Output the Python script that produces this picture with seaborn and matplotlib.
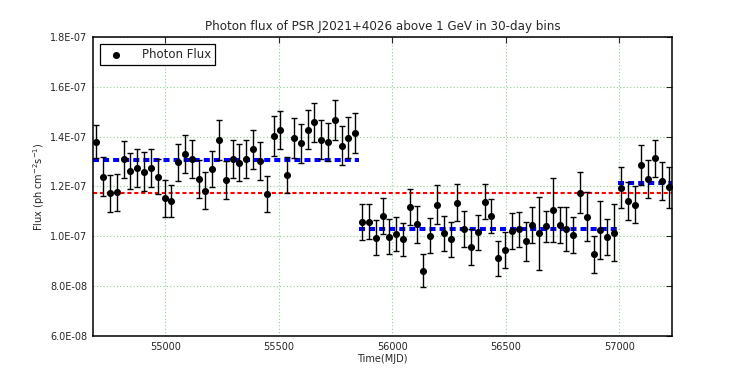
import matplotlib
matplotlib.use("Agg")
import matplotlib.pyplot as plt
import matplotlib.ticker as mticker
import seaborn as sns
import numpy as np
import pandas as pd

# ---- data (MJD bin centres, flux and error in units of 1e-8 ph cm^-2 s^-1) ----
mjd = [54697, 54727, 54757, 54787, 54817, 54847, 54877, 54907, 54937, 54967,
       54997, 55027, 55057, 55087, 55117, 55147, 55177, 55207, 55237, 55267,
       55297, 55327, 55357, 55387, 55417, 55447, 55477, 55507, 55537, 55567,
       55597, 55627, 55657, 55687, 55717, 55747, 55777, 55807, 55837, 55867,
       55897, 55927, 55957, 55987, 56017, 56047, 56077, 56107, 56137, 56167,
       56197, 56227, 56257, 56287, 56317, 56347, 56377, 56407, 56437, 56467,
       56497, 56527, 56557, 56587, 56617, 56647, 56677, 56707, 56737, 56767,
       56797, 56827, 56857, 56887, 56917, 56947, 56977, 57007, 57037, 57067,
       57097, 57127, 57157, 57187, 57217]
flux_e8 = [13.80, 12.39, 11.73, 11.77, 13.10, 12.62, 12.73, 12.59, 12.73, 12.39,
           11.53, 11.42, 12.97, 13.29, 13.09, 12.30, 11.83, 12.70, 13.87, 12.26,
           13.10, 12.96, 13.10, 13.49, 13.02, 11.69, 14.03, 14.27, 12.46, 13.96,
           13.73, 14.27, 14.58, 13.87, 13.80, 14.67, 13.64, 13.96, 14.16, 10.59,
           10.59, 9.95, 10.82, 9.99, 10.10, 9.89, 11.19, 10.48, 8.62, 10.03,
           11.27, 10.12, 9.88, 11.35, 10.29, 9.58, 10.16, 11.39, 10.83, 9.12,
           9.45, 10.21, 10.28, 9.81, 10.46, 10.12, 10.41, 11.06, 10.46, 10.29,
           10.05, 11.75, 10.79, 9.28, 10.25, 9.99, 10.15, 11.95, 11.43, 11.26,
           12.86, 12.30, 13.13, 12.22, 11.97]
err_e8 = [0.67, 0.78, 0.75, 0.74, 0.74, 0.72, 0.77, 0.78, 0.76, 0.70,
          0.74, 0.65, 0.75, 0.76, 0.76, 0.77, 0.75, 0.74, 0.79, 0.76,
          0.77, 0.73, 0.76, 0.77, 0.76, 0.72, 0.80, 0.76, 0.74, 0.80,
          0.79, 0.78, 0.78, 0.78, 0.76, 0.80, 0.78, 0.82, 0.80, 0.72,
          0.69, 0.70, 0.72, 0.70, 0.69, 0.66, 0.72, 0.74, 0.66, 0.70,
          0.78, 0.70, 0.71, 0.75, 0.71, 0.72, 0.69, 0.70, 0.68, 0.70,
          0.71, 0.71, 0.71, 0.78, 0.72, 1.46, 0.62, 1.27, 0.72, 0.88,
          0.71, 0.82, 0.97, 0.75, 1.15, 0.72, 1.14, 0.83, 0.77, 0.74,
          0.80, 0.76, 0.74, 0.78, 0.83]

mean_flux = 1.175e-7
seg_start = [54682, 55852, 56992]
seg_end = [55852, 56992, 57232]
seg_flux = [1.306e-7, 1.030e-7, 1.213e-7]

x_range = [54682, 57232]
y_range = [6.0e-8, 1.8e-7]
xticks = [55000, 55500, 56000, 56500, 57000]
yticks = [6.0e-8, 8.0e-8, 1.0e-7, 1.2e-7, 1.4e-7, 1.6e-7, 1.8e-7]

df = pd.DataFrame({"mjd": mjd,
                   "flux": np.array(flux_e8) * 1e-8,
                   "err": np.array(err_e8) * 1e-8})

sns.set_style("white")
plt.rcParams["font.family"] = ["DejaVu Sans"]

fig = plt.figure(figsize=(7.47, 3.74), dpi=100)
ax = fig.add_axes([0.1245, 0.1016, 0.7751, 0.7995])

# reference lines
ax.hlines(mean_flux, x_range[0], x_range[1], colors="red", linewidth=1.5,
          linestyles=(0, (2.0, 1.3)), zorder=2)
for s, e, f in zip(seg_start, seg_end, seg_flux):
    ax.plot([s, e], [f, f], color="blue", linewidth=2.9,
            dashes=(1.5, 1.0), zorder=2)

ax.errorbar(df["mjd"], df["flux"], yerr=df["err"], fmt="none",
            ecolor="black", elinewidth=1.0, capsize=2.3, capthick=1.0, zorder=3)
sns.scatterplot(data=df, x="mjd", y="flux", color="black", s=26,
                linewidth=0, label="Photon Flux", ax=ax, zorder=4)

ax.set_xlim(*x_range)
ax.set_ylim(*y_range)
ax.set_xticks(xticks)
ax.set_yticks(yticks)
ax.yaxis.set_major_formatter(mticker.FuncFormatter(lambda v, p: "%.1E" % v))
ax.tick_params(direction="in", top=True, right=True, length=4, width=0.8,
               labelsize=7, pad=4)
ax.grid(True, color="#8fd08f", linestyle=(0, (1, 2)), linewidth=0.8)
for sp in ax.spines.values():
    sp.set_color("black")
    sp.set_linewidth(1.1)

ax.set_title("Photon flux of PSR J2021+4026 above 1 GeV in 30-day bins",
             fontsize=8.6, pad=5)
ax.set_xlabel("Time(MJD)", fontsize=7, labelpad=2)
ax.set_ylabel("Flux (ph cm$^{-2}$s$^{-1}$)", fontsize=7, labelpad=2)

leg = ax.legend(loc="upper left", fontsize=8.5, frameon=True, fancybox=False,
                edgecolor="black", framealpha=1, borderpad=0.35,
                handletextpad=1.2, borderaxespad=0.6)
leg.get_frame().set_linewidth(0.9)

fig.savefig("out.png", dpi=100)
